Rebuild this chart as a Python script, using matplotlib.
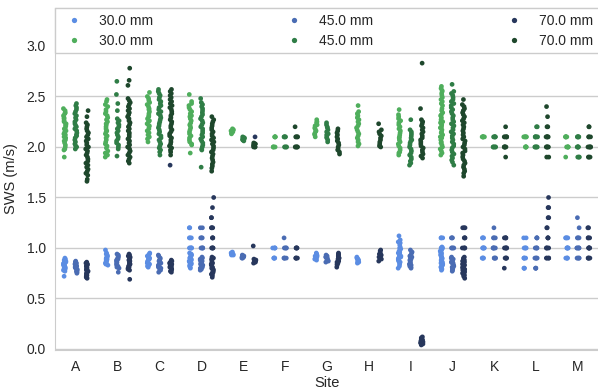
import numpy as np
import pandas as pd
import matplotlib
matplotlib.use("Agg")
import matplotlib.pyplot as plt
from matplotlib.lines import Line2D
import seaborn as sns

sites = list("ABCDEFGHIJKLM")
depths = ["30.0 mm", "45.0 mm", "70.0 mm"]
blue_colors = ["#5b8de3", "#4a6cb3", "#27375c"]
green_colors = ["#4fae5c", "#2f7d46", "#1e472c"]

# lower SWS series (blue), values per site
low_30 = {
    "A": [0.90, 0.89, 0.88, 0.87, 0.87, 0.86, 0.85, 0.85, 0.84, 0.83, 0.83, 0.82, 0.81, 0.80, 0.80, 0.79, 0.78, 0.77, 0.72],
    "B": [0.98, 0.95, 0.94, 0.93, 0.92, 0.92, 0.91, 0.90, 0.89, 0.89, 0.88, 0.87, 0.86, 0.85, 0.84, 0.83],
    "C": [0.95, 0.94, 0.93, 0.92, 0.91, 0.90, 0.89, 0.89, 0.88, 0.87, 0.86, 0.85, 0.84, 0.83, 0.82, 0.81],
    "D": [1.2, 1.2] + [1.1] * 3 + [1.0] * 5 + [0.95, 0.94, 0.93, 0.92, 0.91, 0.90, 0.89, 0.88, 0.87, 0.86, 0.85, 0.84, 0.83, 0.82, 0.81, 0.80],
    "E": [0.96, 0.95, 0.95, 0.94, 0.94, 0.94, 0.93, 0.93],
    "F": [1.0] * 4 + [0.9] * 4,
    "G": [0.95, 0.94, 0.93, 0.92, 0.92, 0.91, 0.90, 0.90, 0.89, 0.88],
    "H": [0.91, 0.90, 0.89, 0.89, 0.88, 0.87, 0.86, 0.85],
    "I": [1.12, 1.08, 1.06, 1.05, 1.03, 1.01, 1.00, 0.99, 0.97, 0.96, 0.95, 0.94, 0.93, 0.92, 0.91, 0.90, 0.89, 0.88, 0.87, 0.86, 0.85, 0.84, 0.82, 0.80],
    "J": [1.1] * 3 + [1.01, 1.00, 1.00, 0.99, 0.98, 0.97, 0.96, 0.95, 0.95, 0.94, 0.93, 0.92, 0.91, 0.90, 0.90, 0.89, 0.88, 0.87, 0.86, 0.85, 0.85, 0.84, 0.83, 0.82, 0.81, 0.80, 0.79, 0.78],
    "K": [1.1] * 3 + [1.0] * 5 + [0.9] * 4,
    "L": [1.1] * 2 + [1.0] * 4 + [0.9] * 4 + [0.8] * 3,
    "M": [1.1] * 4 + [1.0] * 5 + [0.9] * 4,
}
low_45 = {
    "A": [0.87, 0.86, 0.85, 0.84, 0.84, 0.83, 0.82, 0.81, 0.81, 0.80, 0.79, 0.78, 0.77, 0.76, 0.75],
    "B": [0.94, 0.93, 0.92, 0.91, 0.90, 0.89, 0.88, 0.87, 0.86, 0.85, 0.84, 0.83, 0.82, 0.81, 0.80, 0.76],
    "C": [0.93, 0.92, 0.90, 0.89, 0.88, 0.87, 0.86, 0.85, 0.84, 0.83, 0.82, 0.81, 0.80, 0.79, 0.78, 0.76],
    "D": [1.2, 1.2] + [1.1] * 3 + [1.0] * 4 + [0.91, 0.90, 0.89, 0.88, 0.87, 0.86, 0.85, 0.84, 0.83, 0.82, 0.81, 0.80, 0.79, 0.78],
    "E": [0.93, 0.92, 0.92, 0.91, 0.91, 0.91, 0.90, 0.90],
    "F": [1.1] + [1.0] * 4 + [0.9] * 4,
    "G": [0.93, 0.92, 0.91, 0.91, 0.90, 0.89, 0.88, 0.88, 0.87, 0.86],
    "H": [],
    "I": [0.98, 0.96, 0.95, 0.93, 0.92, 0.91, 0.90, 0.89, 0.88, 0.87, 0.86, 0.85, 0.84, 0.83, 0.82, 0.81, 0.80],
    "J": [1.1] * 3 + [1.0] * 4 + [0.91, 0.90, 0.89, 0.88, 0.87, 0.86, 0.86, 0.85, 0.84, 0.83, 0.82, 0.81, 0.80, 0.79, 0.78, 0.77],
    "K": [1.2] + [1.1] * 3 + [1.0] * 5 + [0.9] * 4,
    "L": [1.1] * 3 + [1.0] * 4 + [0.9] * 4 + [0.8] * 3,
    "M": [1.3, 1.2] + [1.1] * 3 + [1.0] * 5 + [0.9] * 4,
}
low_70 = {
    "A": [0.86, 0.85, 0.84, 0.83, 0.82, 0.82, 0.81, 0.80, 0.79, 0.78, 0.78, 0.77, 0.76, 0.75, 0.74, 0.73, 0.72, 0.71, 0.70],
    "B": [0.94, 0.93, 0.92, 0.91, 0.90, 0.89, 0.88, 0.87, 0.86, 0.85, 0.84, 0.83, 0.82, 0.81, 0.80, 0.79, 0.78, 0.69],
    "C": [1.82, 0.88, 0.87, 0.86, 0.85, 0.84, 0.83, 0.82, 0.81, 0.80, 0.79, 0.78, 0.77, 0.76],
    "D": [1.5, 1.4, 1.3, 1.3] + [1.2] * 3 + [1.1] * 3 + [1.0] * 4 + [0.91, 0.90, 0.89, 0.88, 0.86, 0.85, 0.84, 0.83, 0.81, 0.80, 0.79, 0.78, 0.77, 0.76, 0.75, 0.74, 0.73, 0.71],
    "E": [2.10, 1.02, 0.89, 0.88, 0.88, 0.87, 0.87, 0.87, 0.86, 0.86, 0.85],
    "F": [1.0] * 4 + [0.9] * 4,
    "G": [0.95, 0.94, 0.93, 0.92, 0.91, 0.90, 0.89, 0.88, 0.87, 0.86, 0.85, 0.84, 0.83, 0.81],
    "H": [0.98, 0.97, 0.95, 0.94, 0.93, 0.92, 0.91, 0.90, 0.89, 0.87],
    "I": [0.12, 0.11, 0.10, 0.09, 0.08, 0.08, 0.07, 0.06, 0.05, 0.04],
    "J": [1.2] * 3 + [1.1] * 3 + [1.0] * 4 + [0.91, 0.90, 0.89, 0.88, 0.87, 0.86, 0.85, 0.84, 0.83, 0.82, 0.81, 0.80, 0.79, 0.78, 0.77, 0.76, 0.75, 0.74, 0.73, 0.72, 0.70],
    "K": [1.1] * 4 + [1.0] * 5 + [0.9] * 4 + [0.8],
    "L": [1.5, 1.4, 1.4, 1.3, 1.3, 1.2, 1.2] + [1.1] * 3 + [1.0] * 4 + [0.9] * 4,
    "M": [1.2] * 2 + [1.1] * 3 + [1.0] * 5 + [0.9] * 4,
}

# upper SWS series (green), values per site
high_30 = {
    "A": [2.38, 2.36, 2.34, 2.33, 2.31, 2.29, 2.28, 2.26, 2.25, 2.23, 2.22, 2.21, 2.19, 2.18, 2.16, 2.15, 2.13, 2.12, 2.10, 2.09, 2.07, 2.06, 2.04, 2.02, 2.00, 1.98, 1.97, 1.90],
    "B": [2.47, 2.45, 2.42, 2.40, 2.37, 2.35, 2.33, 2.31, 2.29, 2.27, 2.25, 2.23, 2.22, 2.20, 2.18, 2.16, 2.15, 2.13, 2.11, 2.09, 2.07, 2.05, 2.03, 2.01, 1.99, 1.96, 1.94, 1.92, 1.90],
    "C": [2.54, 2.50, 2.48, 2.46, 2.44, 2.42, 2.40, 2.38, 2.37, 2.35, 2.33, 2.31, 2.30, 2.28, 2.26, 2.25, 2.23, 2.21, 2.20, 2.18, 2.16, 2.14, 2.12, 2.10, 2.08, 2.05],
    "D": [2.52, 2.45, 2.43, 2.41, 2.39, 2.37, 2.35, 2.33, 2.31, 2.30, 2.28, 2.26, 2.24, 2.22, 2.21, 2.19, 2.17, 2.15, 2.13, 2.11, 2.09, 2.07, 2.05, 2.03, 2.02, 1.94],
    "E": [2.18, 2.17, 2.16, 2.16, 2.15, 2.15, 2.14, 2.13],
    "F": [2.1] * 4 + [2.0] * 4,
    "G": [2.27, 2.25, 2.24, 2.22, 2.21, 2.19, 2.18, 2.16, 2.15, 2.13, 2.12, 2.10],
    "H": [2.41, 2.35, 2.33, 2.31, 2.29, 2.27, 2.25, 2.23, 2.21, 2.19, 2.17, 2.15, 2.13, 2.11, 2.09, 2.07, 2.05, 2.03, 2.01],
    "I": [2.37, 2.32, 2.30, 2.28, 2.26, 2.24, 2.22, 2.20, 2.18, 2.16, 2.14, 2.12, 2.10, 2.09, 2.07, 2.05, 2.03, 2.01, 1.99, 1.97, 1.95, 1.94, 1.92],
    "J": [2.60, 2.58, 2.56, 2.55, 2.53, 2.51, 2.49, 2.47, 2.45, 2.43, 2.41, 2.38, 2.36, 2.34, 2.32, 2.31, 2.29, 2.27, 2.25, 2.24, 2.22, 2.20, 2.19, 2.17, 2.15, 2.14, 2.12, 2.10, 2.09, 2.07, 2.05, 2.04, 2.02, 2.00, 1.98, 1.96, 1.94, 1.92],
    "K": [2.1] * 6,
    "L": [2.1] * 5 + [2.0] * 5,
    "M": [2.1] * 5 + [2.0] * 5 + [1.9],
}
high_45 = {
    "A": [2.43, 2.41, 2.39, 2.37, 2.35, 2.33, 2.31, 2.29, 2.27, 2.25, 2.23, 2.21, 2.20, 2.18, 2.16, 2.14, 2.12, 2.11, 2.09, 2.07, 2.05, 2.03, 2.01, 2.00, 1.98],
    "B": [2.65, 2.52, 2.43, 2.36, 2.28, 2.26, 2.24, 2.22, 2.20, 2.18, 2.16, 2.14, 2.12, 2.10, 2.08, 2.06, 2.04, 2.02, 2.00, 1.98, 1.91],
    "C": [2.57, 2.55, 2.53, 2.51, 2.49, 2.47, 2.45, 2.43, 2.41, 2.39, 2.37, 2.35, 2.33, 2.31, 2.29, 2.27, 2.25, 2.23, 2.21, 2.19, 2.17, 2.15, 2.13, 2.11, 2.09, 2.07, 2.05, 2.03, 2.01, 1.99, 1.97, 1.95, 1.92],
    "D": [2.48, 2.44, 2.42, 2.40, 2.38, 2.36, 2.34, 2.32, 2.30, 2.28, 2.26, 2.24, 2.22, 2.20, 2.18, 2.16, 2.14, 2.12, 2.10, 2.08, 2.06, 2.04, 2.02, 2.00, 1.98, 1.97, 1.80],
    "E": [2.10, 2.09, 2.09, 2.08, 2.08, 2.07, 2.07, 2.06],
    "F": [2.1] * 4 + [2.0] * 4,
    "G": [2.24, 2.22, 2.20, 2.19, 2.17, 2.15, 2.13, 2.12, 2.10, 2.09, 2.07, 2.05],
    "H": [],
    "I": [2.27, 2.17, 2.15, 2.13, 2.11, 2.09, 2.07, 2.06, 2.04, 2.02, 2.00, 1.98, 1.96, 1.94, 1.92, 1.90, 1.88, 1.86, 1.84, 1.82],
    "J": [2.62, 2.55, 2.53, 2.51, 2.49, 2.47, 2.45, 2.43, 2.41, 2.39, 2.37, 2.35, 2.33, 2.31, 2.29, 2.27, 2.25, 2.23, 2.21, 2.19, 2.17, 2.15, 2.13, 2.11, 2.09, 2.07, 2.05, 2.03, 2.01, 1.99, 1.97, 1.95, 1.93, 1.91, 1.89, 1.87, 1.85, 1.82],
    "K": [2.1] * 5 + [2.0] * 5,
    "L": [2.2] * 2 + [2.1] * 5 + [2.0] * 5,
    "M": [2.1] * 5 + [2.0] * 5 + [1.9] * 3,
}
high_70 = {
    "A": [2.36, 2.30, 2.24, 2.22, 2.20, 2.18, 2.16, 2.14, 2.12, 2.10, 2.08, 2.06, 2.04, 2.02, 2.00, 1.98, 1.96, 1.94, 1.92, 1.90, 1.88, 1.86, 1.84, 1.82, 1.80, 1.78, 1.76, 1.74, 1.72, 1.68, 1.66],
    "B": [2.78, 2.66, 2.61, 2.48, 2.46, 2.44, 2.42, 2.40, 2.38, 2.36, 2.34, 2.32, 2.30, 2.28, 2.26, 2.24, 2.22, 2.20, 2.18, 2.16, 2.14, 2.12, 2.10, 2.08, 2.06, 2.04, 2.02, 2.00, 1.98, 1.96, 1.94, 1.92, 1.90, 1.88, 1.86, 1.84],
    "C": [2.57, 2.55, 2.53, 2.51, 2.49, 2.47, 2.45, 2.43, 2.41, 2.39, 2.37, 2.35, 2.33, 2.31, 2.29, 2.27, 2.25, 2.23, 2.21, 2.19, 2.17, 2.15, 2.13, 2.11, 2.09, 2.07, 2.05, 2.03, 2.01, 1.99, 1.97, 1.95, 1.92],
    "D": [2.30, 2.27, 2.25, 2.23, 2.21, 2.19, 2.17, 2.15, 2.13, 2.11, 2.09, 2.07, 2.05, 2.03, 2.01, 1.99, 1.97, 1.95, 1.93, 1.91, 1.89, 1.87, 1.85, 1.83, 1.81, 1.79, 1.76],
    "E": [2.04, 2.03, 2.03, 2.02, 2.02, 2.01, 2.01, 2.00, 2.00, 2.00],
    "F": [2.2] + [2.1] * 4 + [2.0] * 5,
    "G": [2.18, 2.16, 2.14, 2.12, 2.10, 2.08, 2.06, 2.04, 2.02, 2.00, 1.98, 1.97, 1.95, 1.93],
    "H": [2.23, 2.17, 2.15, 2.13, 2.11, 2.09, 2.07, 2.05, 2.03, 2.01, 2.00],
    "I": [2.83, 2.38, 2.27, 2.25, 2.23, 2.21, 2.19, 2.17, 2.15, 2.13, 2.11, 2.09, 2.07, 2.05, 2.03, 2.01, 1.99, 1.97, 1.95, 1.93, 1.91, 1.89],
    "J": [2.47, 2.42, 2.40, 2.38, 2.36, 2.34, 2.32, 2.30, 2.28, 2.26, 2.24, 2.22, 2.20, 2.18, 2.16, 2.14, 2.12, 2.10, 2.08, 2.06, 2.04, 2.02, 2.00, 1.98, 1.96, 1.94, 1.92, 1.90, 1.88, 1.86, 1.84, 1.82, 1.80, 1.78, 1.76, 1.74, 1.71],
    "K": [2.2] + [2.1] * 5 + [2.0] * 5 + [1.9],
    "L": [2.4, 2.3] + [2.2] * 2 + [2.1] * 5 + [2.0] * 5 + [1.9] * 2,
    "M": [2.2] * 2 + [2.1] * 3 + [2.0] * 5 + [1.9] * 3,
}


def to_frame(series):
    rows = []
    for depth, by_site in zip(depths, series):
        for site in sites:
            for v in by_site[site]:
                rows.append({"Site": site, "SWS": v, "depth": depth})
    return pd.DataFrame(rows)


low_df = to_frame([low_30, low_45, low_70])
high_df = to_frame([high_30, high_45, high_70])

sns.set_style("whitegrid")
plt.rcParams["font.family"] = ["Liberation Sans", "DejaVu Sans"]
np.random.seed(3)

fig = plt.figure(figsize=(5.98, 3.92), dpi=100)
ax = fig.add_axes([55 / 598, 42 / 392, 544 / 598, 342 / 392])

sns.stripplot(data=low_df, x="Site", y="SWS", hue="depth", order=sites, hue_order=depths,
              palette=blue_colors, dodge=True, size=3.4, jitter=True, legend=False, ax=ax)
sns.stripplot(data=high_df, x="Site", y="SWS", hue="depth", order=sites, hue_order=depths,
              palette=green_colors, dodge=True, size=3.4, jitter=True, legend=False, ax=ax)

ax.set_xlim(-0.5, 12.5)
ax.set_ylim(-0.01, 3.376)
ax.set_yticks([0.0, 0.5, 1.0, 1.5, 2.0, 2.5, 3.0])
ax.set_yticklabels([f"{t:.1f}" for t in ax.get_yticks()])
ax.tick_params(labelsize=10, colors="#262626")
ax.tick_params(axis="x", pad=4)
ax.tick_params(axis="y", pad=3)
ax.set_xlabel("Site", fontsize=10.5, color="#262626", labelpad=1)
ax.set_ylabel("SWS (m/s)", fontsize=10.5, color="#262626", labelpad=6)
ax.grid(axis="x", visible=False)
ax.grid(axis="y", color="#cccccc", linewidth=1)
for s in ax.spines.values():
    s.set_color("#cccccc")

handles = []
labels = []
for i, d in enumerate(depths):
    for cols in (blue_colors, green_colors):
        handles.append(Line2D([], [], linestyle="none", marker="o", markersize=3.8,
                              markerfacecolor=cols[i], markeredgewidth=0))
        labels.append(d)
ax.legend(handles, labels, ncol=3, loc="upper left", bbox_to_anchor=(0, 1, 1, 0),
          mode="expand", borderaxespad=0, fontsize=10, frameon=True, fancybox=False,
          edgecolor="#cccccc", facecolor="white", framealpha=1, labelspacing=0.45)

fig.savefig("out.png", dpi=100)
